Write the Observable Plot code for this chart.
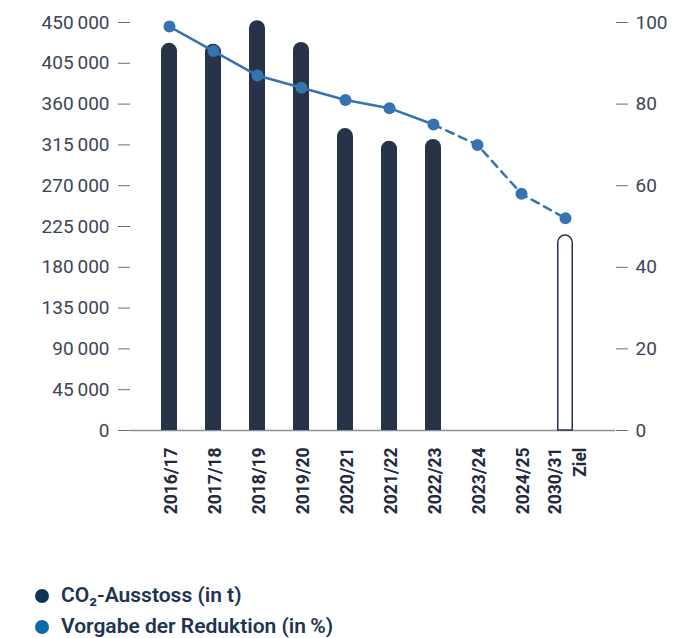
<!DOCTYPE html>
<html>
<head>
<meta charset="utf-8">
<script src="https://cdn.jsdelivr.net/npm/d3@7"></script>
<script src="https://cdn.jsdelivr.net/npm/@observablehq/plot@0.6"></script>
<style>
  html, body { margin: 0; padding: 0; background: #fff; overflow: hidden; }
  body { width: 683px; font-family: Roboto, "Noto Sans", sans-serif; }
  #legend { margin: 24px 0 0 35px; }
  .item { display: flex; align-items: center; height: 31px; font-size: 21px; font-weight: 600; color: #1d3452; line-height: 23px; }
  .dot { width: 14px; height: 14px; border-radius: 50%; margin-right: 12px; flex: none; }
</style>
</head>
<body>
<div id="chart"></div>
<div id="legend"></div>
<script>
// Data
const years = ["2016/17","2017/18","2018/19","2019/20","2020/21","2021/22","2022/23","2023/24","2024/25","2030/31"];
const yearLabels = ["2016/17","2017/18","2018/19","2019/20","2020/21","2021/22","2022/23","2023/24","2024/25","2030/31\nZiel"];
const emissions = [427000, 426000, 452000, 428000, 333000, 319000, 321000, null, null, 215000]; // t CO2
const isTarget  = [false, false, false, false, false, false, false, false, false, true];
const reduction = [99, 93, 87, 84, 81, 79, 75, 70, 58, 52]; // %
const actualUntil = "2022/23";
const leftTicks = [0, 45000, 90000, 135000, 180000, 225000, 270000, 315000, 360000, 405000, 450000];
const rightTicks = [0, 20, 40, 60, 80, 100];
const legendItems = ["CO\u2082-Ausstoss (in t)", "Vorgabe der Reduktion (in\u2009%)"];

const colBar = "#283349", colLine = "#3574b0", colAxis = "#3d4557";
const legendColors = ["#0d3358", "#0d6aaa"];

const bars = years.map((y, i) => ({year: y, v: emissions[i], target: isTarget[i]})).filter(d => d.v != null);
const maxL = 450000, maxR = 100;
const k = maxL / maxR;
const pts = years.map((y, i) => ({year: y, p: reduction[i], v: reduction[i] * k}));
const idx = years.indexOf(actualUntil);
const solid = pts.slice(0, idx + 1);
const dashed = pts.slice(idx);
const labelOf = new Map(years.map((y, i) => [y, yearLabels[i]]));
const fmt = d => d === 0 ? "0" : d3.format(",")(d).replace(/,/g, "\u2009");

const W = 683, mL = 130, mR = 68, mT = 22, mB = 126;
const H = 556;

const plot = Plot.plot({
  width: W, height: H,
  marginLeft: mL, marginRight: mR, marginTop: mT, marginBottom: mB,
  style: {fontFamily: "Roboto, sans-serif", color: colAxis, background: "#fff"},
  x: {domain: years, paddingInner: 0.64, paddingOuter: 0.745, align: 0.42, axis: null, label: null},
  y: {domain: [0, maxL], axis: null, label: null},
  marks: [
    Plot.ruleY([0], {stroke: "#8a8f9c", strokeWidth: 1.5}),
    Plot.barY(bars.filter(d => !d.target), {x: "year", y: "v", fill: colBar, rx1y1: 8, rx2y1: 8}),
    Plot.barY(bars.filter(d => d.target), {x: "year", y: "v", fill: "#fff", stroke: colBar, strokeWidth: 1.5, insetLeft: 0.75, insetRight: 0.75, rx1y1: 8, rx2y1: 8}),
    Plot.axisY({ticks: leftTicks, tickFormat: fmt, tickSize: 12, tickPadding: 9, fontSize: 19, stroke: "#6b7080", anchor: "left", label: null}),
    Plot.axisY({ticks: rightTicks.map(t => t * k), tickFormat: d => String(Math.round(d / k)), tickSize: 12, tickPadding: 8, fontSize: 19, stroke: "#6b7080", anchor: "right", label: null}),
    Plot.axisX({tickSize: 0, tickRotate: -90, tickPadding: 17, tickFormat: d => labelOf.get(d), fontSize: 17.5, fontWeight: "bold", lineHeight: 1.4, textAnchor: "end", fill: "#1f2a3d", label: null}),
    Plot.line(solid, {x: "year", y: "v", stroke: colLine, strokeWidth: 2.5}),
    Plot.line(dashed, {x: "year", y: "v", stroke: colLine, strokeWidth: 2.5, strokeDasharray: "8,6"}),
    Plot.dot(pts, {x: "year", y: "v", r: 6, fill: colLine})
  ]
});
document.getElementById("chart").appendChild(plot);

const lg = document.getElementById("legend");
legendItems.forEach((t, i) => {
  const it = document.createElement("div");
  it.className = "item";
  const dot = document.createElement("span");
  dot.className = "dot";
  dot.style.background = legendColors[i];
  const tx = document.createElement("span");
  tx.textContent = t;
  it.appendChild(dot); it.appendChild(tx);
  lg.appendChild(it);
});
</script>
</body>
</html>
